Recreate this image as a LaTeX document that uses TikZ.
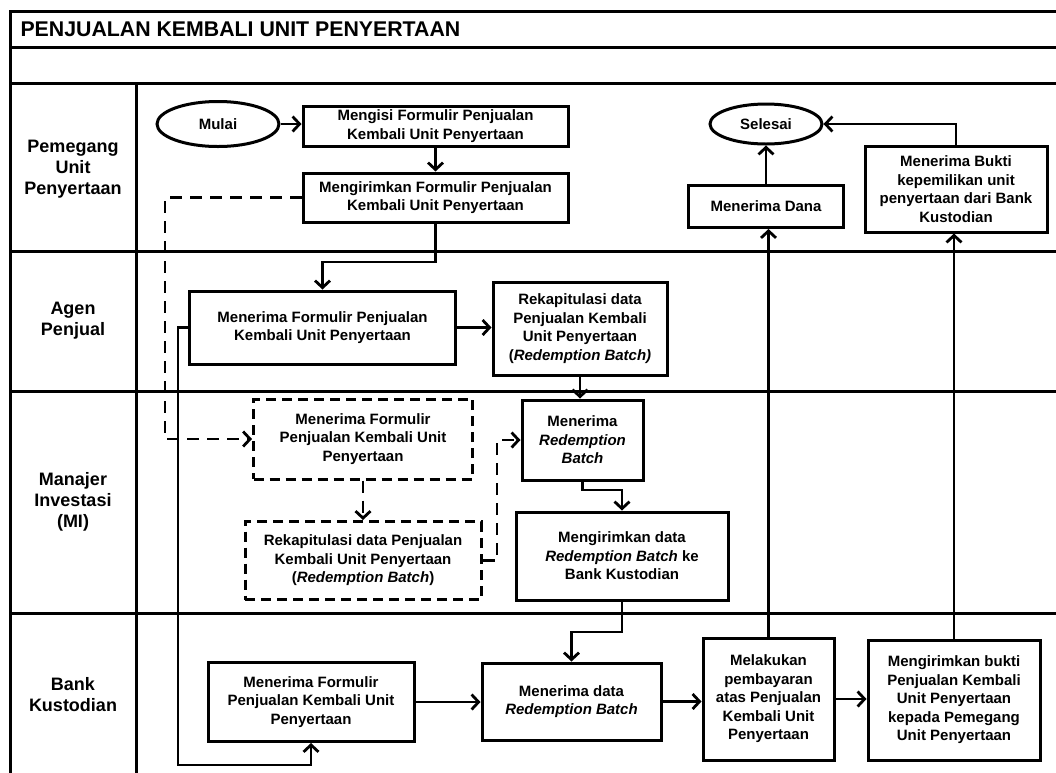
\documentclass[tikz,border=0pt]{standalone}
\usepackage{fontspec}
\setmainfont{Liberation Sans}
\usetikzlibrary{arrows.meta,shapes.geometric}
\begin{document}
\begin{tikzpicture}[x=1pt,y=-1pt,
  lane/.style={line width=3pt},
  pbox/.style={draw, line width=3pt, align=center, inner sep=2pt,
    font=\bfseries\fontsize{15}{18.5}\selectfont},
  dbox/.style={pbox, dash pattern=on 10pt off 6pt},
  term/.style={draw, ellipse, line width=3pt, inner sep=0pt,
    font=\bfseries\fontsize{15}{18.5}\selectfont},
  conn/.style={line width=2.8pt, -{Straight Barb[length=7pt,width=15pt]}},
  dconn/.style={conn, dash pattern=on 12pt off 8pt},
  lbl/.style={align=center, font=\bfseries\fontsize{18}{21}\selectfont}]
\useasboundingbox (0,0) rectangle (1056,772);
\fill[white] (0,0) rectangle (1056,772);
% frame
\draw[lane] (1060,11) -- (10,11) -- (10,776);
\draw[lane] (10,47) -- (1060,47);
\draw[lane] (10,83) -- (1060,83);
\draw[lane] (136,83) -- (136,776);
\draw[lane] (10,251) -- (1060,251);
\draw[lane] (10,391) -- (1060,391);
\draw[lane] (10,613) -- (1060,613);
\node[anchor=west, font=\bfseries\fontsize{21.3}{24}\selectfont] (title) at (17,29) {PENJUALAN KEMBALI UNIT PENYERTAAN};
% lane labels
\node[lbl] (l1) at (73,169) {Pemegang\\Unit\\Penyertaan};
\node[lbl] (l2) at (73,321) {Agen\\Penjual};
\node[lbl] (l3) at (73,502) {Manajer\\Investasi\\(MI)};
\node[lbl] (l4) at (73,695) {Bank\\Kustodian};
% nodes
\node[term, minimum width=122pt, minimum height=45pt] (mulai) at (218,124) {Mulai};
\node[pbox, minimum width=265pt, minimum height=40pt] (isi) at (435.5,126) {Mengisi Formulir Penjualan\\Kembali Unit Penyertaan};
\node[pbox, minimum width=265pt, minimum height=49pt] (kirim) at (435.5,197.5) {Mengirimkan Formulir Penjualan\\Kembali Unit Penyertaan};
\node[term, minimum width=112pt, minimum height=40pt] (selesai) at (766,124) {Selesai};
\node[pbox, minimum width=155pt, minimum height=42pt] (dana) at (766,206.5) {Menerima Dana};
\node[pbox, minimum width=182pt, minimum height=86pt] (mbukti) at (956,189) {Menerima Bukti\\kepemilikan unit\\penyertaan dari Bank\\Kustodian};
\node[pbox, minimum width=266pt, minimum height=73pt] (aterima) at (322.5,327.5) {Menerima Formulir Penjualan\\Kembali Unit Penyertaan};
\node[pbox, minimum width=174pt, minimum height=93pt] (arekap) at (580,328.5) {Rekapitulasi data\\Penjualan Kembali\\Unit Penyertaan\\(\textit{Redemption Batch)}};
\node[dbox, minimum width=219pt, minimum height=80pt] (dterima) at (363,439) {Menerima Formulir\\Penjualan Kembali Unit\\Penyertaan};
\node[dbox, minimum width=236pt, minimum height=78pt] (drekap) at (363,560.5) {Rekapitulasi data Penjualan\\Kembali Unit Penyertaan\\(\textit{Redemption Batch})};
\node[pbox, minimum width=121pt, minimum height=80pt] (mterima) at (582.5,440) {Menerima\\\textit{Redemption}\\\textit{Batch}};
\node[pbox, minimum width=212pt, minimum height=88pt] (mkirim) at (622,556) {Mengirimkan data\\\textit{Redemption Batch} ke\\Bank Kustodian};
\node[pbox, minimum width=206pt, minimum height=79pt] (bterima) at (311,702) {Menerima Formulir\\Penjualan Kembali Unit\\Penyertaan};
\node[pbox, minimum width=179pt, minimum height=77pt] (bdata) at (571.5,701.5) {Menerima data\\\textit{Redemption Batch}};
\node[pbox, minimum width=131pt, minimum height=122pt] (bayar) at (768.5,699) {Melakukan\\pembayaran\\atas Penjualan\\Kembali Unit\\Penyertaan};
\node[pbox, minimum width=172pt, minimum height=120pt] (bukti) at (954,700) {Mengirimkan bukti\\Penjualan Kembali\\Unit Penyertaan\\kepada Pemegang\\Unit Penyertaan};
% coordinates
\coordinate (c1) at (435.5,262);
\coordinate (d1) at (165,197.5);
\coordinate (d2) at (165,439);
\coordinate (d3) at (497,560.5);
\coordinate (d4) at (497,440);
\coordinate (c2) at (582.5,490);
\coordinate (c3) at (178,327.5);
\coordinate (c4) at (178,765);
\coordinate (c5) at (622,632);
\coordinate (c6) at (956,124);
% connectors
\draw[conn] (mulai.east) -- (isi.west |- mulai.east);
\draw[conn] (isi.south) -- (kirim.north);
\draw[conn] (kirim.south) -- (c1) -| (aterima.north);
\draw[dconn] (kirim.west) -- (d1) -- (d2) -- (dterima.west);
\draw[conn] (aterima.east) -- (arekap.west |- aterima.east);
\draw[conn] (arekap.south) -- (mterima.north -| arekap.south);
\draw[dconn] (dterima.south) -- (drekap.north);
\draw[dconn] (drekap.east) -- (d3) -- (d4) -- (mterima.west);
\draw[conn] (mterima.south) -- (c2) -| (mkirim.north);
\draw[conn] (aterima.west) -- (c3) -- (c4) -| (bterima.south);
\draw[conn] (bterima.east) -- (bdata.west |- bterima.east);
\draw[conn] (mkirim.south) -- (c5) -| (bdata.north);
\draw[conn] (bdata.east) -- (bayar.west |- bdata.east);
\draw[conn] (bayar.east) -- (bukti.west |- bayar.east);
\draw[conn] (bayar.north) -- (dana.south -| bayar.north);
\draw[conn] (bukti.north) -- (mbukti.south -| bukti.north);
\draw[conn] (dana.north) -- (selesai.south);
\draw[conn] (mbukti.north) -- (c6) -- (selesai.east);
\end{tikzpicture}
\end{document}
